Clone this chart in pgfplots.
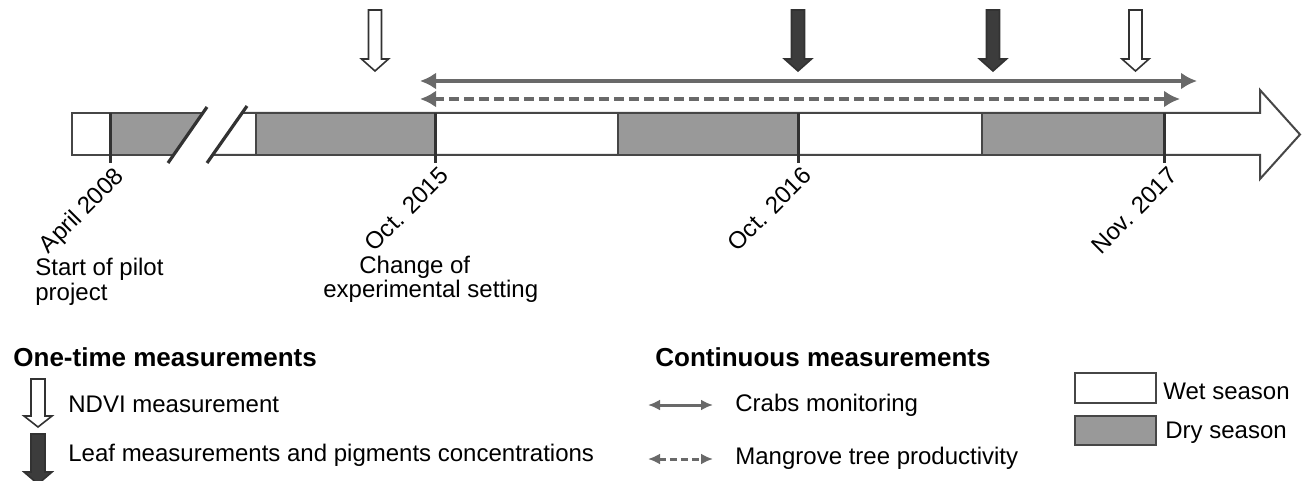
\documentclass[border=0pt]{standalone}
\usepackage{pgfplots}
\pgfplotsset{compat=1.18}
\usetikzlibrary{arrows.meta}
\usepackage{fontspec}
\setmainfont{Liberation Sans}
\definecolor{graybar}{RGB}{153,153,153}
\definecolor{outl}{RGB}{70,70,70}
\definecolor{tickc}{RGB}{50,50,50}
\definecolor{arrgray}{RGB}{105,105,105}
\definecolor{darkarr}{RGB}{60,60,60}
\begin{document}
\begin{tikzpicture}
\begin{axis}[x=0.5pt,y=0.5pt,xmin=0,xmax=1308,ymin=0,ymax=481,y dir=reverse,
  hide axis,clip=false,anchor=south west,at={(0,0)}]
% ---- timeline fills
\addplot[fill=white,draw=none] coordinates {(72,113)(202.8,113)(173.6,155)(72,155)} --cycle;
\addplot[fill=graybar,draw=none] coordinates {(110,113)(202.8,113)(173.6,155)(110,155)} --cycle;
\addplot[fill=white,draw=outl,line width=1pt,line join=miter] coordinates {(242,113)(1260,113)(1260,90)(1300,134.5)(1260,179)(1260,155)(212.6,155)} --cycle;
\addplot[outl,line width=1pt] coordinates {(202.8,113)(72,113)(72,155)(173.6,155)};
% dry seasons
\addplot[fill=graybar,draw=outl,line width=1pt] coordinates {(256,113)(435,113)(435,155)(256,155)} --cycle;
\addplot[fill=graybar,draw=outl,line width=1pt] coordinates {(618,113)(798,113)(798,155)(618,155)} --cycle;
\addplot[fill=graybar,draw=outl,line width=1pt] coordinates {(982,113)(1164,113)(1164,155)(982,155)} --cycle;
% ticks
\addplot[tickc,line width=1.5pt] coordinates {(110,113)(110,163)};
\addplot[tickc,line width=1.5pt] coordinates {(435,113)(435,163)};
\addplot[tickc,line width=1.5pt] coordinates {(798,113)(798,163)};
\addplot[tickc,line width=1.5pt] coordinates {(1164,113)(1164,163)};
% slashes
\addplot[tickc,line width=1.6pt] coordinates {(168,163)(207,107)};
\addplot[tickc,line width=1.6pt] coordinates {(207,163)(247,106)};
% continuous measurement arrows
\addplot[arrgray,line width=2pt,{Latex[length=8pt,width=8.5pt]}-{Latex[length=8pt,width=8.5pt]}] coordinates {(420,81)(1197,81)};
\addplot[arrgray,line width=2pt,dash pattern=on 5pt off 2.5pt,{Latex[length=8pt,width=8.5pt]}-{Latex[length=8pt,width=8.5pt]}] coordinates {(420,99)(1180,99)};
% one-time block arrows
\addplot[fill=white,draw=tickc,line width=0.8pt] coordinates {(368.5,10)(381.5,10)(381.5,59)(388.5,59)(375,71)(361.5,59)(368.5,59)} --cycle;
\addplot[fill=darkarr,draw=tickc,line width=0.8pt] coordinates {(791.5,10)(804.5,10)(804.5,59)(811.5,59)(798,71)(784.5,59)(791.5,59)} --cycle;
\addplot[fill=darkarr,draw=tickc,line width=0.8pt] coordinates {(986.5,10)(999.5,10)(999.5,59)(1006.5,59)(993,71)(979.5,59)(986.5,59)} --cycle;
\addplot[fill=white,draw=tickc,line width=0.8pt] coordinates {(1129,10)(1142,10)(1142,59)(1149,59)(1135.5,71)(1122,59)(1129,59)} --cycle;
% rotated date labels
\begin{scope}[every node/.style={inner sep=0pt,font=\fontsize{12}{14}\selectfont,rotate=45,anchor=north east}]
\node at (113,165) {April 2008};
\node at (438,165) {Oct. 2015};
\node at (801,165) {Oct. 2016};
\node at (1167,165) {Nov. 2017};
\end{scope}
\begin{scope}[every node/.style={inner sep=0pt,font=\fontsize{12}{14}\selectfont,anchor=base west}]
\node at (35,276) {Start of pilot};
\node at (35,300) {project};
\node at (359,273) {Change of};
\node at (323,298) {experimental setting};
\node at (68,412) {NDVI measurement};
\node at (68,461) {Leaf measurements and pigments concentrations};
\node at (735,411) {Crabs monitoring};
\node at (735,464) {Mangrove tree productivity};
\node at (1163,399) {Wet season};
\node at (1165,438) {Dry season};
\node[font=\fontsize{13}{15}\selectfont\bfseries] at (13,366) {One-time measurements};
\node[font=\fontsize{13}{15}\selectfont\bfseries] at (655,366) {Continuous measurements};
\end{scope}
% legend: one-time arrows
\addplot[fill=white,draw=tickc,line width=0.8pt] coordinates {(31,379)(45,379)(45,416)(52,416)(38,427)(24,416)(31,416)} --cycle;
\addplot[fill=darkarr,draw=tickc,line width=0.8pt] coordinates {(31,434)(45,434)(45,472)(52,472)(38,484)(24,472)(31,472)} --cycle;
% legend: continuous arrows
\addplot[arrgray,line width=1.5pt,{Latex[length=6pt,width=5.5pt]}-{Latex[length=6pt,width=5.5pt]}] coordinates {(648,405)(713,405)};
\addplot[arrgray,line width=1.5pt,dash pattern=on 3.5pt off 2pt,{Latex[length=6pt,width=5.5pt]}-{Latex[length=6pt,width=5.5pt]}] coordinates {(648,459)(713,459)};
% legend: seasons
\addplot[fill=white,draw=outl,line width=1pt] coordinates {(1075,373)(1156,373)(1156,403)(1075,403)} --cycle;
\addplot[fill=graybar,draw=outl,line width=1pt] coordinates {(1075,416)(1156,416)(1156,445)(1075,445)} --cycle;
\end{axis}
\pgfresetboundingbox
\path (0,0) rectangle (654pt,240.5pt);
\end{tikzpicture}
\end{document}
